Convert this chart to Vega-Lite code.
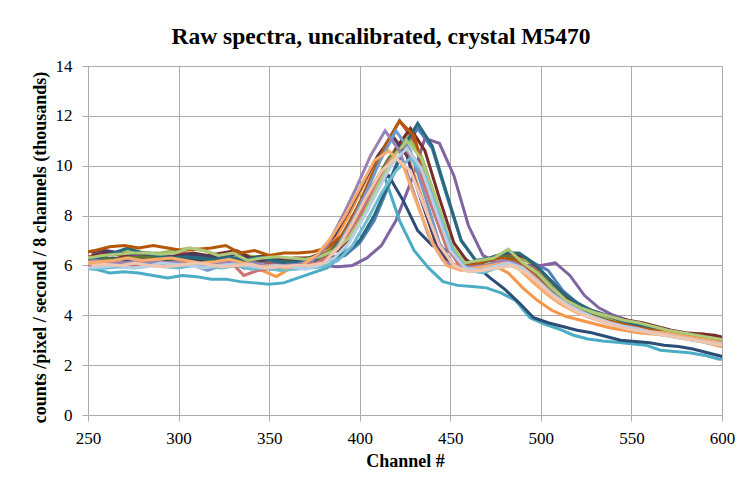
{
"$schema": "https://vega.github.io/schema/vega-lite/v6.json",
"width": 634,
"height": 349,
"autosize": {"type": "none"},
"padding": {"left": 88, "top": 66, "right": 16, "bottom": 69},
"background": "white",
"config": {
  "font": "Liberation Serif",
  "view": {"stroke": null},
  "style": {"guide-label": {"font": "Liberation Serif", "fontSize": 17, "fill": "black"}, "guide-title": {"font": "Liberation Serif", "fontSize": 18, "fontWeight": "bold", "fill": "black"}},
  "axis": {"gridColor": "#ababab", "gridWidth": 1, "domainColor": "#ababab", "tickColor": "#ababab", "tickSize": 6, "labelColor": "black", "labelFontSize": 17, "labelFont": "Liberation Serif", "titleFont": "Liberation Serif", "titleFontSize": 18, "titleFontWeight": "bold", "titleColor": "black"}
},
"title": {"text": "Raw spectra, uncalibrated,  crystal M5470", "font": "Liberation Serif", "fontSize": 23.5, "fontWeight": "bold", "color": "black", "anchor": "middle", "offset": 9, "dx": -24},
"data": {"values": [
{"s":1,"x":248,"y":6.2},{"s":1,"x":256,"y":6.3},{"s":1,"x":264,"y":6.2},{"s":1,"x":272,"y":6.4},{"s":1,"x":280,"y":6.3},{"s":1,"x":288,"y":6.2},{"s":1,"x":296,"y":6.3},{"s":1,"x":304,"y":6.4},{"s":1,"x":312,"y":6.3},{"s":1,"x":320,"y":6.2},{"s":1,"x":328,"y":6.3},{"s":1,"x":336,"y":6.1},{"s":1,"x":344,"y":6.2},{"s":1,"x":352,"y":6.0},{"s":1,"x":360,"y":6.1},{"s":1,"x":368,"y":6.1},{"s":1,"x":376,"y":6.2},{"s":1,"x":384,"y":6.2},{"s":1,"x":392,"y":6.4},{"s":1,"x":400,"y":6.9},{"s":1,"x":408,"y":7.8},{"s":1,"x":416,"y":9.2},{"s":1,"x":424,"y":10.6},{"s":1,"x":432,"y":11.5},{"s":1,"x":440,"y":10.7},{"s":1,"x":448,"y":8.8},{"s":1,"x":456,"y":7.0},{"s":1,"x":464,"y":6.2},{"s":1,"x":472,"y":6.2},{"s":1,"x":480,"y":6.4},{"s":1,"x":488,"y":6.3},{"s":1,"x":496,"y":6.1},{"s":1,"x":504,"y":5.8},{"s":1,"x":512,"y":5.0},{"s":1,"x":520,"y":4.5},{"s":1,"x":528,"y":4.1},{"s":1,"x":536,"y":3.9},{"s":1,"x":544,"y":3.7},{"s":1,"x":552,"y":3.6},{"s":1,"x":560,"y":3.45},{"s":1,"x":568,"y":3.35},{"s":1,"x":576,"y":3.25},{"s":1,"x":584,"y":3.15},{"s":1,"x":592,"y":3.05},{"s":1,"x":600,"y":2.95},{"s":1,"x":608,"y":2.9},
{"s":2,"x":246,"y":6.3},{"s":2,"x":254,"y":6.4},{"s":2,"x":262,"y":6.5},{"s":2,"x":270,"y":6.4},{"s":2,"x":278,"y":6.3},{"s":2,"x":286,"y":6.4},{"s":2,"x":294,"y":6.3},{"s":2,"x":302,"y":6.5},{"s":2,"x":310,"y":6.4},{"s":2,"x":318,"y":6.3},{"s":2,"x":326,"y":6.4},{"s":2,"x":334,"y":6.2},{"s":2,"x":342,"y":6.3},{"s":2,"x":350,"y":6.1},{"s":2,"x":358,"y":6.2},{"s":2,"x":366,"y":6.2},{"s":2,"x":374,"y":6.3},{"s":2,"x":382,"y":6.6},{"s":2,"x":390,"y":7.1},{"s":2,"x":398,"y":8.1},{"s":2,"x":406,"y":9.4},{"s":2,"x":414,"y":10.8},{"s":2,"x":422,"y":11.8},{"s":2,"x":430,"y":11.0},{"s":2,"x":438,"y":9.0},{"s":2,"x":446,"y":7.2},{"s":2,"x":454,"y":6.1},{"s":2,"x":462,"y":6.0},{"s":2,"x":470,"y":6.2},{"s":2,"x":478,"y":6.4},{"s":2,"x":486,"y":6.4},{"s":2,"x":494,"y":6.1},{"s":2,"x":502,"y":5.5},{"s":2,"x":510,"y":4.9},{"s":2,"x":518,"y":4.4},{"s":2,"x":526,"y":4.1},{"s":2,"x":534,"y":3.9},{"s":2,"x":542,"y":3.8},{"s":2,"x":550,"y":3.7},{"s":2,"x":558,"y":3.55},{"s":2,"x":566,"y":3.45},{"s":2,"x":574,"y":3.35},{"s":2,"x":582,"y":3.25},{"s":2,"x":590,"y":3.25},{"s":2,"x":598,"y":3.1},{"s":2,"x":606,"y":3.0},
{"s":3,"x":250,"y":6.3},{"s":3,"x":258,"y":6.4},{"s":3,"x":266,"y":6.5},{"s":3,"x":274,"y":6.6},{"s":3,"x":282,"y":6.5},{"s":3,"x":290,"y":6.5},{"s":3,"x":298,"y":6.6},{"s":3,"x":306,"y":6.7},{"s":3,"x":314,"y":6.6},{"s":3,"x":322,"y":6.4},{"s":3,"x":330,"y":6.5},{"s":3,"x":338,"y":6.4},{"s":3,"x":346,"y":6.3},{"s":3,"x":354,"y":6.3},{"s":3,"x":362,"y":6.2},{"s":3,"x":370,"y":6.3},{"s":3,"x":378,"y":6.4},{"s":3,"x":386,"y":6.7},{"s":3,"x":394,"y":7.2},{"s":3,"x":402,"y":8.2},{"s":3,"x":410,"y":9.4},{"s":3,"x":418,"y":10.5},{"s":3,"x":426,"y":11.2},{"s":3,"x":434,"y":10.4},{"s":3,"x":442,"y":8.7},{"s":3,"x":450,"y":6.9},{"s":3,"x":458,"y":6.0},{"s":3,"x":466,"y":6.1},{"s":3,"x":474,"y":6.3},{"s":3,"x":482,"y":6.6},{"s":3,"x":490,"y":6.3},{"s":3,"x":498,"y":5.9},{"s":3,"x":506,"y":5.3},{"s":3,"x":514,"y":4.7},{"s":3,"x":522,"y":4.3},{"s":3,"x":530,"y":4.0},{"s":3,"x":538,"y":3.8},{"s":3,"x":546,"y":3.65},{"s":3,"x":554,"y":3.5},{"s":3,"x":562,"y":3.4},{"s":3,"x":570,"y":3.3},{"s":3,"x":578,"y":3.2},{"s":3,"x":586,"y":3.1},{"s":3,"x":594,"y":3.0},{"s":3,"x":602,"y":2.95},{"s":3,"x":610,"y":2.9},
{"s":4,"x":252,"y":6.5},{"s":4,"x":260,"y":6.6},{"s":4,"x":268,"y":6.5},{"s":4,"x":276,"y":6.4},{"s":4,"x":284,"y":6.5},{"s":4,"x":292,"y":6.4},{"s":4,"x":300,"y":6.3},{"s":4,"x":308,"y":6.4},{"s":4,"x":316,"y":6.3},{"s":4,"x":324,"y":6.4},{"s":4,"x":332,"y":6.2},{"s":4,"x":340,"y":6.1},{"s":4,"x":348,"y":6.2},{"s":4,"x":356,"y":6.1},{"s":4,"x":364,"y":6.0},{"s":4,"x":372,"y":6.1},{"s":4,"x":380,"y":6.0},{"s":4,"x":388,"y":5.95},{"s":4,"x":396,"y":6.0},{"s":4,"x":404,"y":6.3},{"s":4,"x":412,"y":6.8},{"s":4,"x":420,"y":7.8},{"s":4,"x":428,"y":9.3},{"s":4,"x":436,"y":11.1},{"s":4,"x":444,"y":10.9},{"s":4,"x":452,"y":9.6},{"s":4,"x":460,"y":7.6},{"s":4,"x":468,"y":6.4},{"s":4,"x":476,"y":6.1},{"s":4,"x":484,"y":6.2},{"s":4,"x":492,"y":6.0},{"s":4,"x":500,"y":6.0},{"s":4,"x":508,"y":6.1},{"s":4,"x":516,"y":5.6},{"s":4,"x":524,"y":4.8},{"s":4,"x":532,"y":4.3},{"s":4,"x":540,"y":4.0},{"s":4,"x":548,"y":3.8},{"s":4,"x":556,"y":3.6},{"s":4,"x":564,"y":3.5},{"s":4,"x":572,"y":3.35},{"s":4,"x":580,"y":3.25},{"s":4,"x":588,"y":3.15},{"s":4,"x":596,"y":3.05},{"s":4,"x":604,"y":2.95},{"s":4,"x":612,"y":2.9},
{"s":5,"x":246,"y":5.9},{"s":5,"x":254,"y":5.85},{"s":5,"x":262,"y":5.7},{"s":5,"x":270,"y":5.75},{"s":5,"x":278,"y":5.7},{"s":5,"x":286,"y":5.6},{"s":5,"x":294,"y":5.5},{"s":5,"x":302,"y":5.6},{"s":5,"x":310,"y":5.55},{"s":5,"x":318,"y":5.45},{"s":5,"x":326,"y":5.45},{"s":5,"x":334,"y":5.35},{"s":5,"x":342,"y":5.3},{"s":5,"x":350,"y":5.25},{"s":5,"x":358,"y":5.3},{"s":5,"x":366,"y":5.5},{"s":5,"x":374,"y":5.7},{"s":5,"x":382,"y":5.9},{"s":5,"x":390,"y":6.4},{"s":5,"x":398,"y":7.6},{"s":5,"x":406,"y":9.0},{"s":5,"x":414,"y":9.5},{"s":5,"x":422,"y":7.8},{"s":5,"x":430,"y":6.6},{"s":5,"x":438,"y":5.9},{"s":5,"x":446,"y":5.35},{"s":5,"x":454,"y":5.2},{"s":5,"x":462,"y":5.15},{"s":5,"x":470,"y":5.1},{"s":5,"x":478,"y":4.9},{"s":5,"x":486,"y":4.6},{"s":5,"x":494,"y":3.9},{"s":5,"x":502,"y":3.65},{"s":5,"x":510,"y":3.45},{"s":5,"x":518,"y":3.2},{"s":5,"x":526,"y":3.05},{"s":5,"x":534,"y":2.97},{"s":5,"x":542,"y":2.92},{"s":5,"x":550,"y":2.86},{"s":5,"x":558,"y":2.8},{"s":5,"x":566,"y":2.6},{"s":5,"x":574,"y":2.55},{"s":5,"x":582,"y":2.5},{"s":5,"x":590,"y":2.4},{"s":5,"x":598,"y":2.25},{"s":5,"x":606,"y":2.2},
{"s":6,"x":250,"y":6.1},{"s":6,"x":258,"y":6.15},{"s":6,"x":266,"y":6.1},{"s":6,"x":274,"y":6.2},{"s":6,"x":282,"y":6.1},{"s":6,"x":290,"y":6.2},{"s":6,"x":298,"y":6.1},{"s":6,"x":306,"y":6.2},{"s":6,"x":314,"y":6.15},{"s":6,"x":322,"y":6.1},{"s":6,"x":330,"y":6.2},{"s":6,"x":338,"y":6.0},{"s":6,"x":346,"y":5.8},{"s":6,"x":354,"y":5.55},{"s":6,"x":362,"y":5.9},{"s":6,"x":370,"y":6.0},{"s":6,"x":378,"y":6.3},{"s":6,"x":386,"y":7.0},{"s":6,"x":394,"y":8.0},{"s":6,"x":402,"y":9.2},{"s":6,"x":410,"y":10.4},{"s":6,"x":418,"y":11.2},{"s":6,"x":426,"y":10.5},{"s":6,"x":434,"y":8.8},{"s":6,"x":442,"y":7.0},{"s":6,"x":450,"y":6.1},{"s":6,"x":458,"y":5.9},{"s":6,"x":466,"y":6.0},{"s":6,"x":474,"y":6.0},{"s":6,"x":482,"y":5.7},{"s":6,"x":490,"y":5.1},{"s":6,"x":498,"y":4.6},{"s":6,"x":506,"y":4.2},{"s":6,"x":514,"y":3.95},{"s":6,"x":522,"y":3.8},{"s":6,"x":530,"y":3.65},{"s":6,"x":538,"y":3.5},{"s":6,"x":546,"y":3.4},{"s":6,"x":554,"y":3.3},{"s":6,"x":562,"y":3.25},{"s":6,"x":570,"y":3.2},{"s":6,"x":578,"y":3.1},{"s":6,"x":586,"y":3.0},{"s":6,"x":594,"y":2.85},{"s":6,"x":602,"y":2.7},{"s":6,"x":610,"y":2.65},
{"s":7,"x":248,"y":6.2},{"s":7,"x":256,"y":6.25},{"s":7,"x":264,"y":6.3},{"s":7,"x":272,"y":6.2},{"s":7,"x":280,"y":6.25},{"s":7,"x":288,"y":6.3},{"s":7,"x":296,"y":6.2},{"s":7,"x":304,"y":6.3},{"s":7,"x":312,"y":6.2},{"s":7,"x":320,"y":6.1},{"s":7,"x":328,"y":6.2},{"s":7,"x":336,"y":5.9},{"s":7,"x":344,"y":5.95},{"s":7,"x":352,"y":5.85},{"s":7,"x":360,"y":6.0},{"s":7,"x":368,"y":6.1},{"s":7,"x":376,"y":6.2},{"s":7,"x":384,"y":6.5},{"s":7,"x":392,"y":7.4},{"s":7,"x":400,"y":8.5},{"s":7,"x":408,"y":9.3},{"s":7,"x":416,"y":9.6},{"s":7,"x":424,"y":8.6},{"s":7,"x":432,"y":7.4},{"s":7,"x":440,"y":6.8},{"s":7,"x":448,"y":6.6},{"s":7,"x":456,"y":6.35},{"s":7,"x":464,"y":6.0},{"s":7,"x":472,"y":5.5},{"s":7,"x":480,"y":5.05},{"s":7,"x":488,"y":4.5},{"s":7,"x":496,"y":3.9},{"s":7,"x":504,"y":3.7},{"s":7,"x":512,"y":3.55},{"s":7,"x":520,"y":3.4},{"s":7,"x":528,"y":3.3},{"s":7,"x":536,"y":3.15},{"s":7,"x":544,"y":3.0},{"s":7,"x":552,"y":2.95},{"s":7,"x":560,"y":2.9},{"s":7,"x":568,"y":2.8},{"s":7,"x":576,"y":2.75},{"s":7,"x":584,"y":2.65},{"s":7,"x":592,"y":2.5},{"s":7,"x":600,"y":2.35},{"s":7,"x":608,"y":2.3},
{"s":8,"x":252,"y":6.4},{"s":8,"x":260,"y":6.5},{"s":8,"x":268,"y":6.4},{"s":8,"x":276,"y":6.5},{"s":8,"x":284,"y":6.4},{"s":8,"x":292,"y":6.3},{"s":8,"x":300,"y":6.4},{"s":8,"x":308,"y":6.5},{"s":8,"x":316,"y":6.4},{"s":8,"x":324,"y":6.5},{"s":8,"x":332,"y":6.6},{"s":8,"x":340,"y":6.3},{"s":8,"x":348,"y":6.4},{"s":8,"x":356,"y":6.2},{"s":8,"x":364,"y":6.3},{"s":8,"x":372,"y":6.3},{"s":8,"x":380,"y":6.4},{"s":8,"x":388,"y":6.6},{"s":8,"x":396,"y":7.2},{"s":8,"x":404,"y":8.3},{"s":8,"x":412,"y":9.5},{"s":8,"x":420,"y":10.7},{"s":8,"x":428,"y":11.5},{"s":8,"x":436,"y":10.6},{"s":8,"x":444,"y":8.7},{"s":8,"x":452,"y":6.9},{"s":8,"x":460,"y":6.1},{"s":8,"x":468,"y":6.2},{"s":8,"x":476,"y":6.4},{"s":8,"x":484,"y":6.5},{"s":8,"x":492,"y":6.3},{"s":8,"x":500,"y":5.8},{"s":8,"x":508,"y":5.2},{"s":8,"x":516,"y":4.6},{"s":8,"x":524,"y":4.3},{"s":8,"x":532,"y":4.1},{"s":8,"x":540,"y":3.9},{"s":8,"x":548,"y":3.8},{"s":8,"x":556,"y":3.7},{"s":8,"x":564,"y":3.55},{"s":8,"x":572,"y":3.4},{"s":8,"x":580,"y":3.3},{"s":8,"x":588,"y":3.25},{"s":8,"x":596,"y":3.2},{"s":8,"x":604,"y":3.05},{"s":8,"x":612,"y":3.0},
{"s":9,"x":248,"y":6.2},{"s":9,"x":256,"y":6.3},{"s":9,"x":264,"y":6.25},{"s":9,"x":272,"y":6.3},{"s":9,"x":280,"y":6.35},{"s":9,"x":288,"y":6.3},{"s":9,"x":296,"y":6.25},{"s":9,"x":304,"y":6.4},{"s":9,"x":312,"y":6.3},{"s":9,"x":320,"y":6.2},{"s":9,"x":328,"y":6.3},{"s":9,"x":336,"y":6.25},{"s":9,"x":344,"y":6.2},{"s":9,"x":352,"y":6.2},{"s":9,"x":360,"y":6.15},{"s":9,"x":368,"y":6.2},{"s":9,"x":376,"y":6.3},{"s":9,"x":384,"y":6.6},{"s":9,"x":392,"y":7.2},{"s":9,"x":400,"y":8.2},{"s":9,"x":408,"y":9.3},{"s":9,"x":416,"y":10.3},{"s":9,"x":424,"y":10.9},{"s":9,"x":432,"y":10.1},{"s":9,"x":440,"y":8.4},{"s":9,"x":448,"y":6.8},{"s":9,"x":456,"y":6.0},{"s":9,"x":464,"y":6.0},{"s":9,"x":472,"y":6.2},{"s":9,"x":480,"y":6.4},{"s":9,"x":488,"y":6.2},{"s":9,"x":496,"y":5.7},{"s":9,"x":504,"y":5.1},{"s":9,"x":512,"y":4.6},{"s":9,"x":520,"y":4.25},{"s":9,"x":528,"y":4.0},{"s":9,"x":536,"y":3.8},{"s":9,"x":544,"y":3.65},{"s":9,"x":552,"y":3.55},{"s":9,"x":560,"y":3.45},{"s":9,"x":568,"y":3.35},{"s":9,"x":576,"y":3.2},{"s":9,"x":584,"y":3.1},{"s":9,"x":592,"y":3.0},{"s":9,"x":600,"y":2.9},{"s":9,"x":608,"y":2.85},
{"s":10,"x":250,"y":6.55},{"s":10,"x":258,"y":6.6},{"s":10,"x":266,"y":6.5},{"s":10,"x":274,"y":6.45},{"s":10,"x":282,"y":6.5},{"s":10,"x":290,"y":6.4},{"s":10,"x":298,"y":6.35},{"s":10,"x":306,"y":6.45},{"s":10,"x":314,"y":6.4},{"s":10,"x":322,"y":6.3},{"s":10,"x":330,"y":6.45},{"s":10,"x":338,"y":6.3},{"s":10,"x":346,"y":6.2},{"s":10,"x":354,"y":6.3},{"s":10,"x":362,"y":6.25},{"s":10,"x":370,"y":6.2},{"s":10,"x":378,"y":6.5},{"s":10,"x":386,"y":7.2},{"s":10,"x":394,"y":8.2},{"s":10,"x":402,"y":9.3},{"s":10,"x":410,"y":10.4},{"s":10,"x":418,"y":11.2},{"s":10,"x":426,"y":10.4},{"s":10,"x":434,"y":8.6},{"s":10,"x":442,"y":6.9},{"s":10,"x":450,"y":6.0},{"s":10,"x":458,"y":5.85},{"s":10,"x":466,"y":5.9},{"s":10,"x":474,"y":6.1},{"s":10,"x":482,"y":6.2},{"s":10,"x":490,"y":5.9},{"s":10,"x":498,"y":5.4},{"s":10,"x":506,"y":4.8},{"s":10,"x":514,"y":4.4},{"s":10,"x":522,"y":4.1},{"s":10,"x":530,"y":3.9},{"s":10,"x":538,"y":3.7},{"s":10,"x":546,"y":3.55},{"s":10,"x":554,"y":3.45},{"s":10,"x":562,"y":3.35},{"s":10,"x":570,"y":3.25},{"s":10,"x":578,"y":3.15},{"s":10,"x":586,"y":3.05},{"s":10,"x":594,"y":2.95},{"s":10,"x":602,"y":2.85},{"s":10,"x":610,"y":2.8},
{"s":11,"x":248,"y":6.2},{"s":11,"x":256,"y":6.3},{"s":11,"x":264,"y":6.5},{"s":11,"x":272,"y":6.7},{"s":11,"x":280,"y":6.5},{"s":11,"x":288,"y":6.4},{"s":11,"x":296,"y":6.3},{"s":11,"x":304,"y":6.35},{"s":11,"x":312,"y":6.3},{"s":11,"x":320,"y":6.25},{"s":11,"x":328,"y":6.35},{"s":11,"x":336,"y":6.2},{"s":11,"x":344,"y":6.35},{"s":11,"x":352,"y":6.2},{"s":11,"x":360,"y":6.1},{"s":11,"x":368,"y":6.15},{"s":11,"x":376,"y":6.2},{"s":11,"x":384,"y":6.3},{"s":11,"x":392,"y":6.5},{"s":11,"x":400,"y":7.0},{"s":11,"x":408,"y":8.0},{"s":11,"x":416,"y":9.3},{"s":11,"x":424,"y":10.7},{"s":11,"x":432,"y":11.7},{"s":11,"x":440,"y":10.8},{"s":11,"x":448,"y":8.9},{"s":11,"x":456,"y":7.0},{"s":11,"x":464,"y":6.2},{"s":11,"x":472,"y":6.3},{"s":11,"x":480,"y":6.5},{"s":11,"x":488,"y":6.5},{"s":11,"x":496,"y":6.1},{"s":11,"x":504,"y":5.5},{"s":11,"x":512,"y":4.9},{"s":11,"x":520,"y":4.5},{"s":11,"x":528,"y":4.2},{"s":11,"x":536,"y":4.0},{"s":11,"x":544,"y":3.8},{"s":11,"x":552,"y":3.65},{"s":11,"x":560,"y":3.5},{"s":11,"x":568,"y":3.4},{"s":11,"x":576,"y":3.3},{"s":11,"x":584,"y":3.15},{"s":11,"x":592,"y":3.05},{"s":11,"x":600,"y":2.95},{"s":11,"x":608,"y":2.9},
{"s":12,"x":246,"y":6.5},{"s":12,"x":254,"y":6.6},{"s":12,"x":262,"y":6.75},{"s":12,"x":270,"y":6.8},{"s":12,"x":278,"y":6.7},{"s":12,"x":286,"y":6.8},{"s":12,"x":294,"y":6.7},{"s":12,"x":302,"y":6.6},{"s":12,"x":310,"y":6.65},{"s":12,"x":318,"y":6.7},{"s":12,"x":326,"y":6.8},{"s":12,"x":334,"y":6.5},{"s":12,"x":342,"y":6.6},{"s":12,"x":350,"y":6.4},{"s":12,"x":358,"y":6.5},{"s":12,"x":366,"y":6.5},{"s":12,"x":374,"y":6.55},{"s":12,"x":382,"y":6.7},{"s":12,"x":390,"y":7.2},{"s":12,"x":398,"y":8.2},{"s":12,"x":406,"y":9.5},{"s":12,"x":414,"y":10.8},{"s":12,"x":422,"y":11.8},{"s":12,"x":430,"y":11.2},{"s":12,"x":438,"y":9.2},{"s":12,"x":446,"y":7.3},{"s":12,"x":454,"y":6.2},{"s":12,"x":462,"y":6.0},{"s":12,"x":470,"y":6.2},{"s":12,"x":478,"y":6.3},{"s":12,"x":486,"y":6.2},{"s":12,"x":494,"y":5.8},{"s":12,"x":502,"y":5.2},{"s":12,"x":510,"y":4.7},{"s":12,"x":518,"y":4.3},{"s":12,"x":526,"y":4.0},{"s":12,"x":534,"y":3.8},{"s":12,"x":542,"y":3.7},{"s":12,"x":550,"y":3.55},{"s":12,"x":558,"y":3.45},{"s":12,"x":566,"y":3.35},{"s":12,"x":574,"y":3.35},{"s":12,"x":582,"y":3.2},{"s":12,"x":590,"y":3.1},{"s":12,"x":598,"y":2.95},{"s":12,"x":606,"y":2.9},
{"s":13,"x":252,"y":6.0},{"s":13,"x":260,"y":6.05},{"s":13,"x":268,"y":5.95},{"s":13,"x":276,"y":6.0},{"s":13,"x":284,"y":6.1},{"s":13,"x":292,"y":6.05},{"s":13,"x":300,"y":5.95},{"s":13,"x":308,"y":6.0},{"s":13,"x":316,"y":5.8},{"s":13,"x":324,"y":6.0},{"s":13,"x":332,"y":6.05},{"s":13,"x":340,"y":5.9},{"s":13,"x":348,"y":6.0},{"s":13,"x":356,"y":5.95},{"s":13,"x":364,"y":6.0},{"s":13,"x":372,"y":5.9},{"s":13,"x":380,"y":6.1},{"s":13,"x":388,"y":6.8},{"s":13,"x":396,"y":7.8},{"s":13,"x":404,"y":9.0},{"s":13,"x":412,"y":10.3},{"s":13,"x":420,"y":11.4},{"s":13,"x":428,"y":10.6},{"s":13,"x":436,"y":8.8},{"s":13,"x":444,"y":6.9},{"s":13,"x":452,"y":6.0},{"s":13,"x":460,"y":5.8},{"s":13,"x":468,"y":5.85},{"s":13,"x":476,"y":6.0},{"s":13,"x":484,"y":6.1},{"s":13,"x":492,"y":5.8},{"s":13,"x":500,"y":5.3},{"s":13,"x":508,"y":4.8},{"s":13,"x":516,"y":4.4},{"s":13,"x":524,"y":4.1},{"s":13,"x":532,"y":3.85},{"s":13,"x":540,"y":3.65},{"s":13,"x":548,"y":3.5},{"s":13,"x":556,"y":3.4},{"s":13,"x":564,"y":3.3},{"s":13,"x":572,"y":3.2},{"s":13,"x":580,"y":3.1},{"s":13,"x":588,"y":3.0},{"s":13,"x":596,"y":2.9},{"s":13,"x":604,"y":2.8},{"s":13,"x":612,"y":2.75},
{"s":14,"x":248,"y":5.95},{"s":14,"x":256,"y":6.0},{"s":14,"x":264,"y":6.05},{"s":14,"x":272,"y":6.0},{"s":14,"x":280,"y":5.95},{"s":14,"x":288,"y":6.05},{"s":14,"x":296,"y":6.1},{"s":14,"x":304,"y":6.0},{"s":14,"x":312,"y":6.05},{"s":14,"x":320,"y":6.1},{"s":14,"x":328,"y":6.2},{"s":14,"x":336,"y":5.6},{"s":14,"x":344,"y":5.8},{"s":14,"x":352,"y":5.9},{"s":14,"x":360,"y":6.0},{"s":14,"x":368,"y":6.0},{"s":14,"x":376,"y":6.1},{"s":14,"x":384,"y":6.4},{"s":14,"x":392,"y":7.0},{"s":14,"x":400,"y":8.0},{"s":14,"x":408,"y":9.1},{"s":14,"x":416,"y":10.2},{"s":14,"x":424,"y":10.8},{"s":14,"x":432,"y":10.0},{"s":14,"x":440,"y":8.3},{"s":14,"x":448,"y":6.7},{"s":14,"x":456,"y":5.95},{"s":14,"x":464,"y":5.9},{"s":14,"x":472,"y":6.0},{"s":14,"x":480,"y":6.2},{"s":14,"x":488,"y":6.0},{"s":14,"x":496,"y":5.6},{"s":14,"x":504,"y":5.0},{"s":14,"x":512,"y":4.5},{"s":14,"x":520,"y":4.2},{"s":14,"x":528,"y":3.95},{"s":14,"x":536,"y":3.75},{"s":14,"x":544,"y":3.6},{"s":14,"x":552,"y":3.5},{"s":14,"x":560,"y":3.35},{"s":14,"x":568,"y":3.25},{"s":14,"x":576,"y":3.15},{"s":14,"x":584,"y":3.05},{"s":14,"x":592,"y":2.95},{"s":14,"x":600,"y":2.85},{"s":14,"x":608,"y":2.8},
{"s":15,"x":250,"y":6.3},{"s":15,"x":258,"y":6.4},{"s":15,"x":266,"y":6.45},{"s":15,"x":274,"y":6.5},{"s":15,"x":282,"y":6.5},{"s":15,"x":290,"y":6.45},{"s":15,"x":298,"y":6.5},{"s":15,"x":306,"y":6.7},{"s":15,"x":314,"y":6.6},{"s":15,"x":322,"y":6.4},{"s":15,"x":330,"y":6.5},{"s":15,"x":338,"y":6.2},{"s":15,"x":346,"y":6.3},{"s":15,"x":354,"y":6.35},{"s":15,"x":362,"y":6.3},{"s":15,"x":370,"y":6.25},{"s":15,"x":378,"y":6.35},{"s":15,"x":386,"y":6.6},{"s":15,"x":394,"y":7.1},{"s":15,"x":402,"y":8.0},{"s":15,"x":410,"y":9.2},{"s":15,"x":418,"y":10.3},{"s":15,"x":426,"y":11.0},{"s":15,"x":434,"y":10.3},{"s":15,"x":442,"y":8.6},{"s":15,"x":450,"y":6.9},{"s":15,"x":458,"y":6.1},{"s":15,"x":466,"y":6.2},{"s":15,"x":474,"y":6.3},{"s":15,"x":482,"y":6.65},{"s":15,"x":490,"y":6.1},{"s":15,"x":498,"y":5.7},{"s":15,"x":506,"y":5.1},{"s":15,"x":514,"y":4.6},{"s":15,"x":522,"y":4.3},{"s":15,"x":530,"y":4.1},{"s":15,"x":538,"y":3.95},{"s":15,"x":546,"y":3.8},{"s":15,"x":554,"y":3.7},{"s":15,"x":562,"y":3.55},{"s":15,"x":570,"y":3.4},{"s":15,"x":578,"y":3.3},{"s":15,"x":586,"y":3.2},{"s":15,"x":594,"y":3.1},{"s":15,"x":602,"y":3.0},{"s":15,"x":610,"y":2.95},
{"s":16,"x":246,"y":6.1},{"s":16,"x":254,"y":6.2},{"s":16,"x":262,"y":6.15},{"s":16,"x":270,"y":6.1},{"s":16,"x":278,"y":6.2},{"s":16,"x":286,"y":6.15},{"s":16,"x":294,"y":6.1},{"s":16,"x":302,"y":6.2},{"s":16,"x":310,"y":6.0},{"s":16,"x":318,"y":6.1},{"s":16,"x":326,"y":6.15},{"s":16,"x":334,"y":6.05},{"s":16,"x":342,"y":6.1},{"s":16,"x":350,"y":5.95},{"s":16,"x":358,"y":6.0},{"s":16,"x":366,"y":6.05},{"s":16,"x":374,"y":6.2},{"s":16,"x":382,"y":6.8},{"s":16,"x":390,"y":7.9},{"s":16,"x":398,"y":9.1},{"s":16,"x":406,"y":10.4},{"s":16,"x":414,"y":11.4},{"s":16,"x":422,"y":10.6},{"s":16,"x":430,"y":8.9},{"s":16,"x":438,"y":7.2},{"s":16,"x":446,"y":6.2},{"s":16,"x":454,"y":5.9},{"s":16,"x":462,"y":5.95},{"s":16,"x":470,"y":6.0},{"s":16,"x":478,"y":6.2},{"s":16,"x":486,"y":6.1},{"s":16,"x":494,"y":5.6},{"s":16,"x":502,"y":5.0},{"s":16,"x":510,"y":4.5},{"s":16,"x":518,"y":4.2},{"s":16,"x":526,"y":3.95},{"s":16,"x":534,"y":3.75},{"s":16,"x":542,"y":3.6},{"s":16,"x":550,"y":3.45},{"s":16,"x":558,"y":3.35},{"s":16,"x":566,"y":3.25},{"s":16,"x":574,"y":3.15},{"s":16,"x":582,"y":3.05},{"s":16,"x":590,"y":2.95},{"s":16,"x":598,"y":2.85},{"s":16,"x":606,"y":2.8},
{"s":17,"x":252,"y":5.85},{"s":17,"x":260,"y":5.9},{"s":17,"x":268,"y":5.95},{"s":17,"x":276,"y":5.9},{"s":17,"x":284,"y":6.0},{"s":17,"x":292,"y":5.95},{"s":17,"x":300,"y":5.9},{"s":17,"x":308,"y":6.0},{"s":17,"x":316,"y":5.95},{"s":17,"x":324,"y":5.9},{"s":17,"x":332,"y":6.0},{"s":17,"x":340,"y":5.85},{"s":17,"x":348,"y":5.9},{"s":17,"x":356,"y":5.8},{"s":17,"x":364,"y":5.85},{"s":17,"x":372,"y":5.9},{"s":17,"x":380,"y":5.95},{"s":17,"x":388,"y":6.2},{"s":17,"x":396,"y":6.8},{"s":17,"x":404,"y":7.8},{"s":17,"x":412,"y":8.9},{"s":17,"x":420,"y":9.8},{"s":17,"x":428,"y":10.3},{"s":17,"x":436,"y":9.6},{"s":17,"x":444,"y":8.0},{"s":17,"x":452,"y":6.5},{"s":17,"x":460,"y":5.8},{"s":17,"x":468,"y":5.7},{"s":17,"x":476,"y":5.9},{"s":17,"x":484,"y":6.0},{"s":17,"x":492,"y":5.7},{"s":17,"x":500,"y":5.2},{"s":17,"x":508,"y":4.7},{"s":17,"x":516,"y":4.3},{"s":17,"x":524,"y":4.0},{"s":17,"x":532,"y":3.8},{"s":17,"x":540,"y":3.6},{"s":17,"x":548,"y":3.45},{"s":17,"x":556,"y":3.35},{"s":17,"x":564,"y":3.25},{"s":17,"x":572,"y":3.15},{"s":17,"x":580,"y":3.05},{"s":17,"x":588,"y":2.95},{"s":17,"x":596,"y":2.85},{"s":17,"x":604,"y":2.75},{"s":17,"x":612,"y":2.7},
{"s":18,"x":248,"y":6.1},{"s":18,"x":256,"y":6.15},{"s":18,"x":264,"y":6.2},{"s":18,"x":272,"y":6.3},{"s":18,"x":280,"y":6.2},{"s":18,"x":288,"y":6.25},{"s":18,"x":296,"y":6.3},{"s":18,"x":304,"y":6.2},{"s":18,"x":312,"y":6.1},{"s":18,"x":320,"y":6.15},{"s":18,"x":328,"y":6.25},{"s":18,"x":336,"y":6.1},{"s":18,"x":344,"y":5.95},{"s":18,"x":352,"y":6.0},{"s":18,"x":360,"y":5.9},{"s":18,"x":368,"y":6.0},{"s":18,"x":376,"y":6.4},{"s":18,"x":384,"y":7.1},{"s":18,"x":392,"y":8.0},{"s":18,"x":400,"y":9.1},{"s":18,"x":408,"y":10.2},{"s":18,"x":416,"y":10.6},{"s":18,"x":424,"y":10.0},{"s":18,"x":432,"y":8.4},{"s":18,"x":440,"y":6.9},{"s":18,"x":448,"y":6.0},{"s":18,"x":456,"y":5.8},{"s":18,"x":464,"y":5.9},{"s":18,"x":472,"y":6.0},{"s":18,"x":480,"y":6.1},{"s":18,"x":488,"y":5.85},{"s":18,"x":496,"y":5.3},{"s":18,"x":504,"y":4.8},{"s":18,"x":512,"y":4.4},{"s":18,"x":520,"y":4.1},{"s":18,"x":528,"y":3.9},{"s":18,"x":536,"y":3.7},{"s":18,"x":544,"y":3.55},{"s":18,"x":552,"y":3.45},{"s":18,"x":560,"y":3.35},{"s":18,"x":568,"y":3.3},{"s":18,"x":576,"y":3.2},{"s":18,"x":584,"y":3.1},{"s":18,"x":592,"y":3.0},{"s":18,"x":600,"y":2.9},{"s":18,"x":608,"y":2.85},
{"s":19,"x":250,"y":5.9},{"s":19,"x":258,"y":5.95},{"s":19,"x":266,"y":6.0},{"s":19,"x":274,"y":5.9},{"s":19,"x":282,"y":5.95},{"s":19,"x":290,"y":6.1},{"s":19,"x":298,"y":6.05},{"s":19,"x":306,"y":6.0},{"s":19,"x":314,"y":5.9},{"s":19,"x":322,"y":6.0},{"s":19,"x":330,"y":6.05},{"s":19,"x":338,"y":6.0},{"s":19,"x":346,"y":5.9},{"s":19,"x":354,"y":6.0},{"s":19,"x":362,"y":5.95},{"s":19,"x":370,"y":5.85},{"s":19,"x":378,"y":6.0},{"s":19,"x":386,"y":6.3},{"s":19,"x":394,"y":6.9},{"s":19,"x":402,"y":7.9},{"s":19,"x":410,"y":9.0},{"s":19,"x":418,"y":10.1},{"s":19,"x":426,"y":10.7},{"s":19,"x":434,"y":9.9},{"s":19,"x":442,"y":8.2},{"s":19,"x":450,"y":6.6},{"s":19,"x":458,"y":5.9},{"s":19,"x":466,"y":5.8},{"s":19,"x":474,"y":5.95},{"s":19,"x":482,"y":6.1},{"s":19,"x":490,"y":5.9},{"s":19,"x":498,"y":5.4},{"s":19,"x":506,"y":4.85},{"s":19,"x":514,"y":4.45},{"s":19,"x":522,"y":4.15},{"s":19,"x":530,"y":3.9},{"s":19,"x":538,"y":3.7},{"s":19,"x":546,"y":3.55},{"s":19,"x":554,"y":3.45},{"s":19,"x":562,"y":3.3},{"s":19,"x":570,"y":3.2},{"s":19,"x":578,"y":3.1},{"s":19,"x":586,"y":3.0},{"s":19,"x":594,"y":2.9},{"s":19,"x":602,"y":2.8},{"s":19,"x":610,"y":2.75},
{"s":20,"x":252,"y":6.0},{"s":20,"x":260,"y":6.05},{"s":20,"x":268,"y":6.0},{"s":20,"x":276,"y":6.1},{"s":20,"x":284,"y":6.0},{"s":20,"x":292,"y":5.95},{"s":20,"x":300,"y":6.0},{"s":20,"x":308,"y":6.1},{"s":20,"x":316,"y":6.05},{"s":20,"x":324,"y":5.95},{"s":20,"x":332,"y":6.0},{"s":20,"x":340,"y":6.05},{"s":20,"x":348,"y":5.9},{"s":20,"x":356,"y":5.95},{"s":20,"x":364,"y":6.0},{"s":20,"x":372,"y":6.0},{"s":20,"x":380,"y":6.1},{"s":20,"x":388,"y":6.7},{"s":20,"x":396,"y":7.7},{"s":20,"x":404,"y":8.8},{"s":20,"x":412,"y":9.8},{"s":20,"x":420,"y":10.3},{"s":20,"x":428,"y":9.8},{"s":20,"x":436,"y":8.3},{"s":20,"x":444,"y":6.8},{"s":20,"x":452,"y":6.0},{"s":20,"x":460,"y":5.75},{"s":20,"x":468,"y":5.8},{"s":20,"x":476,"y":5.9},{"s":20,"x":484,"y":6.0},{"s":20,"x":492,"y":5.7},{"s":20,"x":500,"y":5.2},{"s":20,"x":508,"y":4.7},{"s":20,"x":516,"y":4.3},{"s":20,"x":524,"y":4.0},{"s":20,"x":532,"y":3.8},{"s":20,"x":540,"y":3.6},{"s":20,"x":548,"y":3.45},{"s":20,"x":556,"y":3.35},{"s":20,"x":564,"y":3.25},{"s":20,"x":572,"y":3.15},{"s":20,"x":580,"y":3.05},{"s":20,"x":588,"y":2.95},{"s":20,"x":596,"y":2.85},{"s":20,"x":604,"y":2.75},{"s":20,"x":612,"y":2.7}
]},
"mark": {"type": "line", "strokeWidth": 3, "clip": true},
"encoding": {
  "x": {"field": "x", "type": "quantitative", "scale": {"domain": [250, 600], "nice": false, "zero": false},
        "axis": {"values": [250, 300, 350, 400, 450, 500, 550, 600], "title": "Channel #", "labelFont": "Liberation Serif", "labelFontSize": 17, "titleFont": "Liberation Serif", "labelPadding": 9, "titlePadding": 6, "labelFlush": false}},
  "y": {"field": "y", "type": "quantitative", "scale": {"domain": [0, 14], "nice": false},
        "axis": {"values": [0, 2, 4, 6, 8, 10, 12, 14], "title": "counts /pixel / second / 8 channels (thousands)", "labelFont": "Liberation Serif", "labelFontSize": 17, "titleFont": "Liberation Serif", "labelPadding": 10, "titlePadding": 6, "titleY": 181}},
  "color": {"field": "s", "type": "nominal", "legend": null,
    "scale": {"domain": [1,2,3,4,5,6,7,8,9,10,11,12,13,14,15,16,17,18,19,20],
              "range": ["#4F81BD","#C0504D","#9BBB59","#8064A2","#4BACC6","#F79646","#2C4D75","#772C2A","#5F7530","#4D3B62","#276A7C","#B65708","#729ACA","#CD7371","#AFC97A","#9983B5","#6FBDD1","#F9AB6B","#B9CDE5","#F2C6AE"]}}
}
}
